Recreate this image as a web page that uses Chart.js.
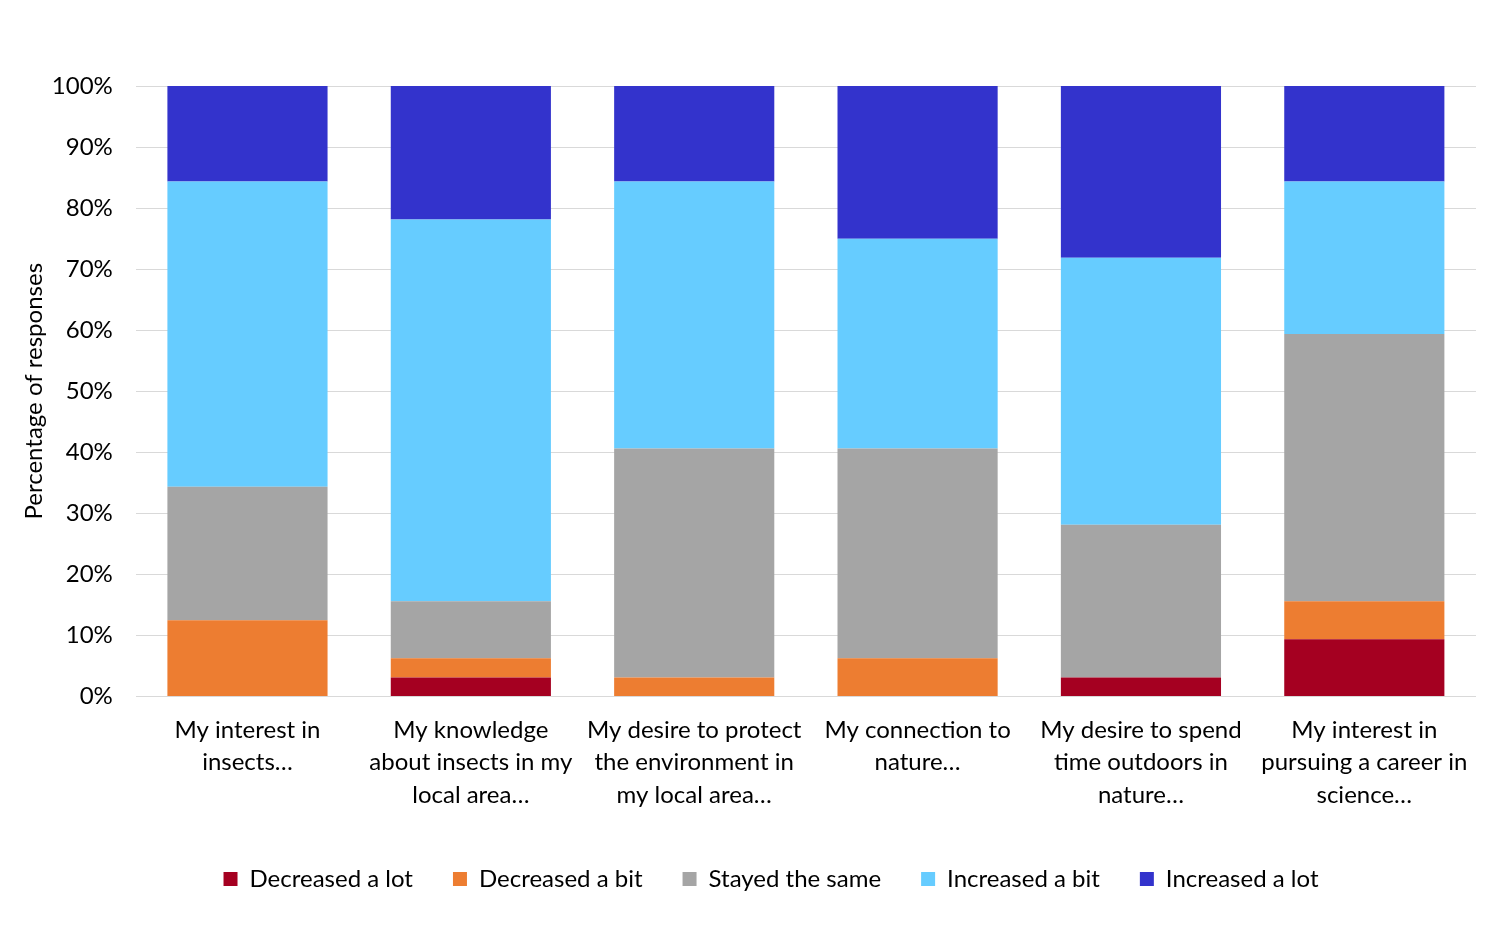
<!DOCTYPE html>
<html>
<head>
<meta charset="utf-8">
<script src="https://cdn.jsdelivr.net/npm/chart.js@4"></script>
<style>
  html, body { margin: 0; padding: 0; background: #fff; }
  #wrap { width: 1492px; height: 935px; }
</style>
</head>
<body>
<div id="wrap"><canvas id="chart"></canvas></div>
<script>
// Categories (multi-line labels as shown)
const categories = [
    ["My interest in", "insects…"],
    ["My knowledge", "about insects in my", "local area…"],
    ["My desire to protect", "the environment in", "my local area…"],
    ["My connection to", "nature…"],
    ["My desire to spend", "time outdoors in", "nature…"],
    ["My interest in", "pursuing a career in", "science…"]
];

// Percent of responses per series
const decreasedLot  = [0, 3.125, 0, 0, 3.125, 9.375];
const decreasedBit  = [12.5, 3.125, 3.125, 6.25, 0, 6.25];
const stayedSame    = [21.875, 9.375, 37.5, 34.375, 25, 43.75];
const increasedBit  = [50, 62.5, 43.75, 34.375, 43.75, 25];
const increasedLot  = [15.625, 21.875, 15.625, 25, 28.125, 15.625];

const yTicks = [0, 10, 20, 30, 40, 50, 60, 70, 80, 90, 100];

const fontFamily = "Lato, 'Open Sans', sans-serif";
Chart.defaults.font.family = fontFamily;
Chart.defaults.color = "#000";

function series(label, data, color) {
    return { label: label, data: data, backgroundColor: color, borderWidth: 0 };
}

// nudge the legend a little to the right, like the original
const legendShift = {
    id: "legendShift",
    afterLayout(chart) {
        if (chart.legend) {
            chart.legend.left += 23;
            chart.legend.right += 23;
        }
    }
};

new Chart(document.getElementById("chart"), {
    type: "bar",
    data: {
        labels: categories,
        datasets: [
            series("Decreased a lot", decreasedLot, "#A50021"),
            series("Decreased a bit", decreasedBit, "#ED7D31"),
            series("Stayed the same", stayedSame, "#A5A5A5"),
            series("Increased a bit", increasedBit, "#66CCFF"),
            series("Increased a lot", increasedLot, "#3333CC")
        ]
    },
    options: {
        responsive: true,
        maintainAspectRatio: false,
        animation: false,
        layout: { padding: { top: 86, right: 16, left: 20, bottom: 34 } },
        datasets: { bar: { categoryPercentage: 1, barPercentage: 0.717 } },
        plugins: {
            tooltip: { enabled: false },
            legend: {
                position: "bottom",
                labels: {
                    boxWidth: 14,
                    boxHeight: 14,
                    padding: 40,
                    font: { size: 24 },
                    color: "#000"
                }
            }
        },
        scales: {
            x: {
                stacked: true,
                grid: { display: false },
                border: { display: false },
                ticks: {
                    maxRotation: 0,
                    autoSkip: false,
                    padding: 10,
                    font: { size: 24, lineHeight: 1.34 }
                },
                // empty title used only as spacer above the legend
                title: { display: true, text: "", font: { size: 6, lineHeight: 1 }, padding: 0 }
            },
            y: {
                stacked: true,
                min: 0,
                max: 100,
                afterBuildTicks: function(axis) {
                    axis.ticks = yTicks.map(v => ({ value: v }));
                },
                grid: { color: "#D9D9D9", lineWidth: 1, drawTicks: false },
                border: { display: false },
                ticks: {
                    padding: 23,
                    font: { size: 24 },
                    callback: v => v + "%"
                },
                title: {
                    display: true,
                    text: "Percentage of responses",
                    font: { size: 24 },
                    padding: { top: 0, bottom: -20 }
                }
            }
        }
    },
    plugins: [legendShift]
});
</script>
</body>
</html>
